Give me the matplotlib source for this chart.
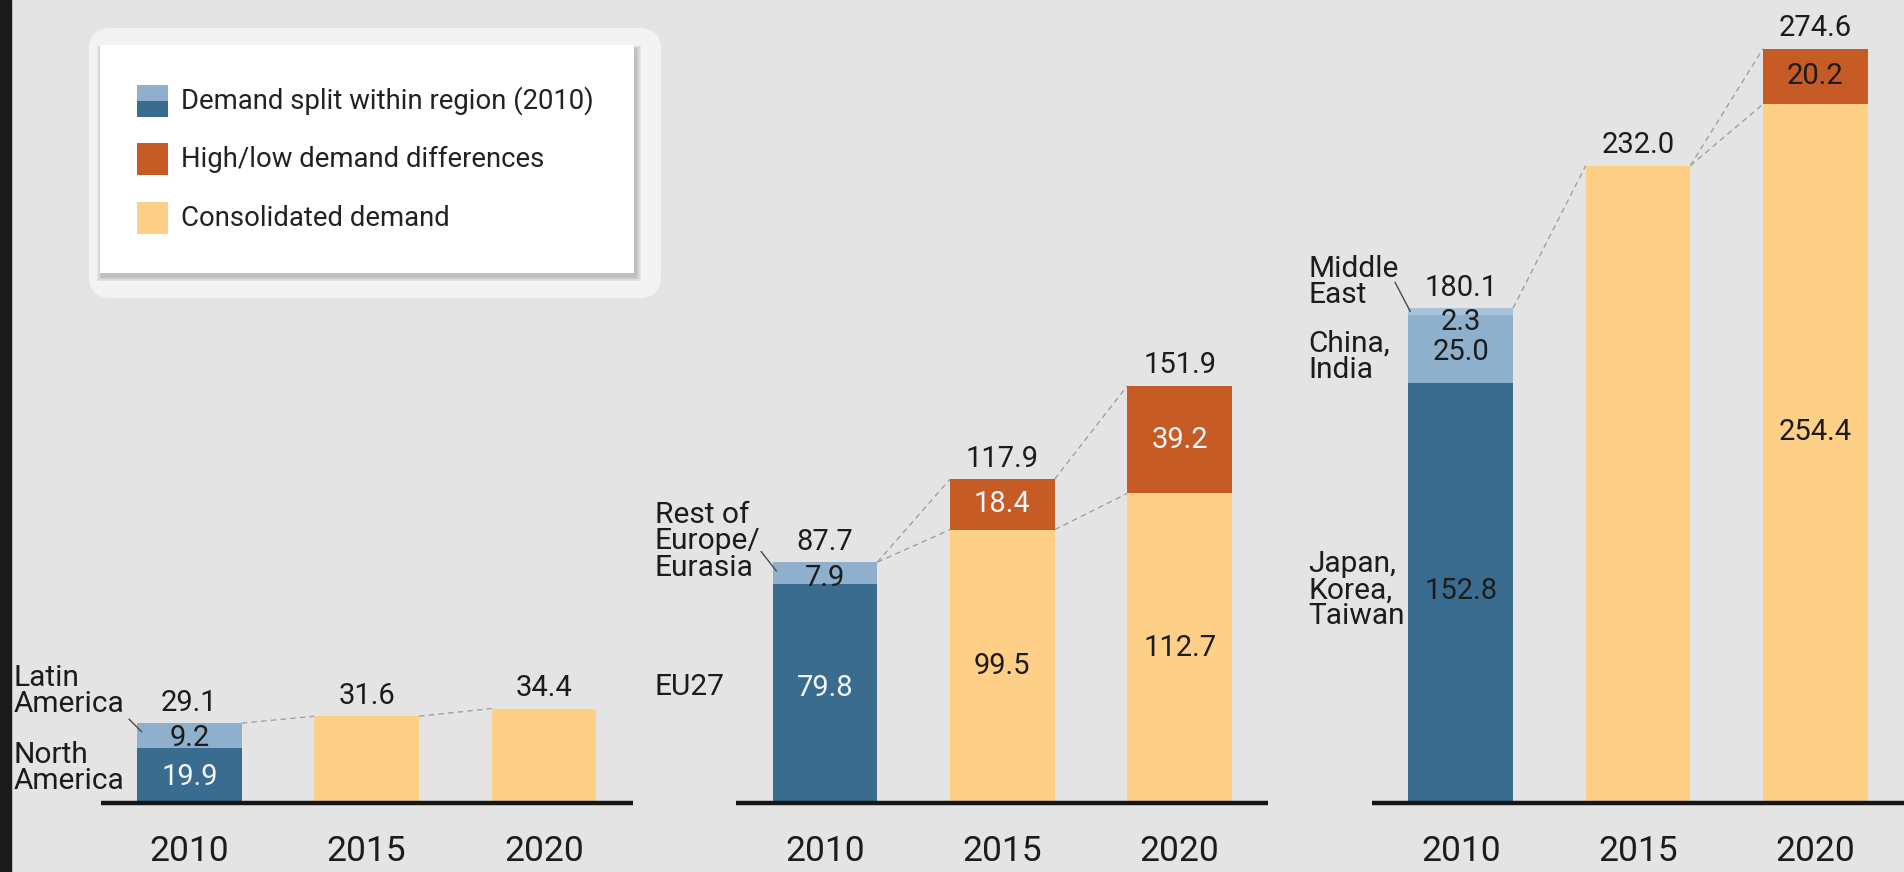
import matplotlib.pyplot as plt
from matplotlib.patches import FancyBboxPatch, Rectangle

plt.rcParams['font.family'] = ['Roboto', 'DejaVu Sans']

# colours
BG = '#e4e4e4'
DARK_BLUE = '#3a6c8f'
LIGHT_BLUE = '#8fb0cc'
PALE_BLUE = '#a9c4da'
ORANGE = '#c65b25'
YELLOW = '#fecf87'
INK = '#1c1c1c'
WHITE_TXT = '#f2f6fa'

years = ['2010', '2015', '2020']

# 2010: demand split within each region (bottom to top)
americas_split = [19.9, 9.2]
europe_split = [79.8, 7.9]
asia_split = [152.8, 25.0, 2.3]

americas_regions = ['North\nAmerica', 'Latin\nAmerica']
europe_regions = ['EU27', 'Rest of\nEurope/\nEurasia']
asia_regions = ['Japan,\nKorea,\nTaiwan', 'China,\nIndia', 'Middle\nEast']

# 2015 / 2020: consolidated demand and high/low difference on top
americas_consolidated = [31.6, 34.4]
americas_diff = [0.0, 0.0]
europe_consolidated = [99.5, 112.7]
europe_diff = [18.4, 39.2]
asia_consolidated = [232.0, 254.4]
asia_diff = [0.0, 20.2]

panels = [
    dict(split=americas_split, regions=americas_regions,
         cons=americas_consolidated, diff=americas_diff,
         split_colors=[DARK_BLUE, LIGHT_BLUE], split_txt=[WHITE_TXT, INK],
         label_dx=-0.99, label_y=[12.7, 40.8],
         leader=[(-0.34, 30.5), (-0.27, 26.0)],
         seg_y=[9.6, 23.8]),
    dict(split=europe_split, regions=europe_regions,
         cons=europe_consolidated, diff=europe_diff,
         split_colors=[DARK_BLUE, LIGHT_BLUE], split_txt=[WHITE_TXT, INK],
         label_dx=-0.96, label_y=[42.2, 95.2],
         leader=[(-0.36, 91.5), (-0.275, 84.5)],
         seg_y=[42.0, 82.0]),
    dict(split=asia_split, regions=asia_regions,
         cons=asia_consolidated, diff=asia_diff,
         split_colors=[DARK_BLUE, LIGHT_BLUE, PALE_BLUE], split_txt=[INK, INK, INK],
         label_dx=-0.86, label_y=[77.5, 162.4, 189.7],
         leader=[(-0.37, 189.5), (-0.285, 179.0)],
         seg_y=[77.0, 164.0, 175.0]),
]

W = 0.59
PANEL_STEP = 3.585
FS_VAL = 21
FS_REGION = 21.5
DASH = dict(color='#a0a0a0', lw=1.0, dashes=(4, 3), zorder=1)

fig = plt.figure(figsize=(19.04, 8.72), dpi=100)
fig.patch.set_facecolor(BG)
ax = fig.add_axes([0, 0, 1, 1])
ax.set_facecolor(BG)
ax.set_xlim(-1.068, 9.67)
ax.set_ylim(-25.1, 292.3)
ax.axis('off')

for p, pan in enumerate(panels):
    base = p * PANEL_STEP
    xs = [base + i for i in range(3)]

    # 2010 stacked split
    bottom = 0.0
    for k, v in enumerate(pan['split']):
        ax.bar(xs[0], v, bottom=bottom, width=W, color=pan['split_colors'][k],
               linewidth=0, zorder=2)
        ax.text(xs[0], pan['seg_y'][k], f'{v:.1f}', ha='center', va='center',
                fontsize=FS_VAL, color=pan['split_txt'][k], zorder=4)
        bottom += v
    for k, name in enumerate(pan['regions']):
        ax.text(base + pan['label_dx'], pan['label_y'][k], name, ha='left',
                va='center', fontsize=FS_REGION, color=INK, linespacing=0.92)
    (lx0, ly0), (lx1, ly1) = pan['leader']
    ax.plot([base + lx0, base + lx1], [ly0, ly1], color='#4a4a4a', lw=1.0, zorder=3)

    tops = [sum(pan['split'])]
    cons_tops = [sum(pan['split'])]
    # 2015 / 2020 bars
    for j in range(2):
        x = xs[j + 1]
        c = pan['cons'][j]
        d = pan['diff'][j]
        ax.bar(x, c, width=W, color=YELLOW, linewidth=0, zorder=2)
        if d > 0:
            ax.bar(x, d, bottom=c, width=W, color=ORANGE, linewidth=0, zorder=2)
            ax.text(x, c / 2 + (8 if c > 200 else 0), f'{c:.1f}', ha='center',
                    va='center', fontsize=FS_VAL, color=INK, zorder=4)
            ax.text(x, c + d / 2, f'{d:.1f}', ha='center', va='center',
                    fontsize=FS_VAL, color=INK if c > 200 else WHITE_TXT, zorder=4)
        tops.append(c + d)
        cons_tops.append(c)

    # totals above bars
    for x, t in zip(xs, tops):
        ax.annotate(f'{t:.1f}', (x, t), xytext=(0, 9), textcoords='offset points',
                    ha='center', va='baseline', fontsize=FS_VAL, color=INK)

    # dashed connectors between neighbouring bars
    for i in range(2):
        x0 = xs[i] + W / 2
        x1 = xs[i + 1] - W / 2
        ax.plot([x0, x1], [tops[i], tops[i + 1]], **DASH)
        if pan['diff'][i] > 0:
            start = cons_tops[i] if i > 0 and pan['diff'][i - 1] > 0 else tops[i]
            ax.plot([x0, x1], [start, cons_tops[i + 1]], **DASH)

    # baseline and year labels
    ax.hlines(0, base - 0.5, base + 2.5, color='#161616', lw=3.2, zorder=3)
    for x, yr in zip(xs, years):
        ax.text(x, -17.5, yr, ha='center', va='center', fontsize=25.5, color=INK)

# overlay in pixel units for the legend card and the dark edge
ov = fig.add_axes([0, 0, 1, 1], zorder=5)
ov.set_xlim(0, 1904)
ov.set_ylim(872, 0)
ov.axis('off')
ov.patch.set_alpha(0)

ov.add_patch(Rectangle((0, 0), 11, 872, color='#1b1b1b'))

ov.add_patch(FancyBboxPatch((89, 28), 572, 270,
                            boxstyle='round,pad=0,rounding_size=22',
                            facecolor='#f7f7f7', edgecolor='none', alpha=0.8))
for s in range(1, 10):
    ov.add_patch(Rectangle((100 - s * 0.6 + 2, 45 - s * 0.4 + 4), 534 + s * 1.2, 228 + s * 0.9,
                           facecolor='black', edgecolor='none', alpha=0.025))
ov.add_patch(Rectangle((100, 45), 534, 228, facecolor='white', edgecolor='none'))

ov.add_patch(Rectangle((137, 85), 31, 16, facecolor=LIGHT_BLUE, edgecolor='none'))
ov.add_patch(Rectangle((137, 101), 31, 16, facecolor=DARK_BLUE, edgecolor='none'))
ov.add_patch(Rectangle((137, 143), 31, 32, facecolor=ORANGE, edgecolor='none'))
ov.add_patch(Rectangle((137, 202), 31, 32, facecolor=YELLOW, edgecolor='none'))
legend_labels = ['Demand split within region (2010)', 'High/low demand differences',
                 'Consolidated demand']
for yy, lab in zip([101, 159, 218], legend_labels):
    ov.text(181, yy, lab, ha='left', va='center', fontsize=19.8, color='#222222')

fig.savefig('out.png', dpi=100, facecolor=BG)
